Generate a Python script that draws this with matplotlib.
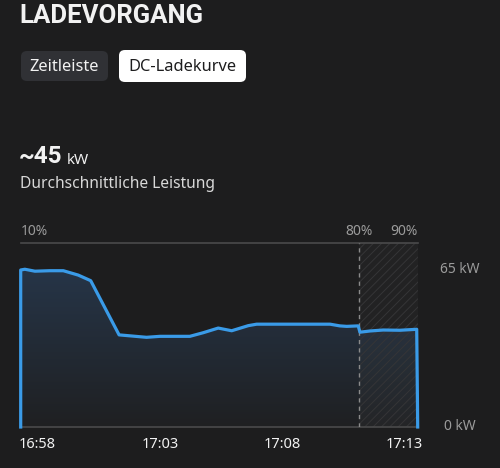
import numpy as np
import matplotlib
matplotlib.use("Agg")
import matplotlib.pyplot as plt
from matplotlib.patches import FancyBboxPatch, Rectangle
from matplotlib.colors import LinearSegmentedColormap

# minutes relative to 16:58
minutes = [-0.69, -0.69, -0.52, -0.11, 0.50, 1.05, 1.66, 2.17, 3.33, 4.45, 5.0,
           6.22, 6.77, 7.38, 7.93, 8.61, 8.95, 11.95, 12.35, 12.63, 13.10, 13.17,
           13.58, 14.12, 14.80, 15.49, 15.53]
power_kw = [0.0, 64.6, 64.9, 64.1, 64.3, 64.3, 62.5, 60.2, 37.9, 36.9, 37.3,
            37.3, 38.8, 40.7, 39.6, 41.7, 42.3, 42.3, 41.6, 41.4, 41.6, 39.0,
            39.5, 39.9, 39.8, 40.2, 0.0]

tick_minutes = [0, 5, 10, 15]
tick_labels = ["16:58", "17:03", "17:08", "17:13"]
soc_80_minute = 13.13
soc_labels = ["10%", "80%", "90%"]
kw_labels = ["65 kW", "0 kW"]
kw_label_values = [65, 0]

BG = "#1d1d1e"
BLUE = "#3a9be8"
GREY = "#9b9b9b"
WHITE = "#f2f2f2"

W, H = 500, 468
fig = plt.figure(figsize=(W / 100, H / 100), dpi=100, facecolor=BG)


def fx(px):
    return px / W


def fy(py):
    return 1 - py / H


font = "Noto Sans"
bold_font = "Roboto"

# header
fig.text(fx(19), fy(16), "LADEVORGANG", color=WHITE, fontsize=18.5,
         fontweight="bold", family=bold_font, va="center", ha="left")

# tab buttons
b1 = FancyBboxPatch((fx(21), fy(81)), fx(87), fy(51) - fy(81),
                    boxstyle="round,pad=0,rounding_size=0.012",
                    transform=fig.transFigure, facecolor="#303135",
                    edgecolor="none")
b2 = FancyBboxPatch((fx(119), fy(82)), fx(127), fy(50) - fy(82),
                    boxstyle="round,pad=0,rounding_size=0.012",
                    transform=fig.transFigure, facecolor="#ffffff",
                    edgecolor="none")
fig.patches.extend([b1, b2])
fig.text(fx(64), fy(67), "Zeitleiste", color=WHITE, fontsize=11.8,
         family=font, va="center", ha="center")
fig.text(fx(182), fy(67), "DC-Ladekurve", color="#1d1d1e", fontsize=11.8,
         family=font, va="center", ha="center")

# average
fig.text(fx(19), fy(157), "~45", color=WHITE, fontsize=17.5,
         fontweight="bold", family=bold_font, va="center", ha="left")
fig.text(fx(67), fy(160), "kW", color=WHITE, fontsize=11,
         family=font, va="center", ha="left")
fig.text(fx(20), fy(184), "Durchschnittliche Leistung", color="#d8d8d8",
         fontsize=11.2, family=font, va="center", ha="left")

# chart axes
x_left, x_right = -0.69, 15.53
y_top = 75.7
ax = fig.add_axes([fx(20.7), fy(427), fx(417.7) - fx(20.7), fy(243) - fy(427)])
ax.set_facecolor("none")
ax.set_xlim(x_left, x_right)
ax.set_ylim(0, y_top)
for side in ["left", "right"]:
    ax.spines[side].set_visible(False)
for side in ["top", "bottom"]:
    ax.spines[side].set_color("#4a4a4b")
    ax.spines[side].set_linewidth(1.2)
ax.set_xticks([])
ax.set_yticks([])

# gradient fill below curve
grad = np.linspace(0, 1, 256).reshape(-1, 1)
cmap = LinearSegmentedColormap.from_list("g", ["#1f2022", "#263548"])
poly = ax.fill_between(minutes, power_kw, 0, color="none")
img = ax.imshow(grad, cmap=cmap, aspect="auto", origin="lower",
                extent=[x_left, x_right, 0, max(power_kw)], zorder=1)
img.set_clip_path(poly.get_paths()[0], transform=ax.transData)

# hatched region after 80 %
plt.rcParams["hatch.color"] = "#353537"
plt.rcParams["hatch.linewidth"] = 0.7
ax.add_patch(Rectangle((soc_80_minute, 0), x_right - soc_80_minute, y_top,
                       facecolor="#ffffff06", edgecolor="#353537",
                       hatch="////", linewidth=0, zorder=2))
ax.axvline(soc_80_minute, color="#8a8a8a", linestyle=(0, (3, 3)),
           linewidth=1, zorder=3)

ax.plot(minutes, power_kw, color=BLUE, linewidth=2.3, zorder=4,
        solid_joinstyle="round", clip_on=False)

# labels
tr = ax.get_xaxis_transform()
ax.text(x_left, 1.065, soc_labels[0], transform=tr, color=GREY, fontsize=10,
        family=font, ha="left", va="center")
ax.text(soc_80_minute, 1.065, soc_labels[1], transform=tr, color=GREY,
        fontsize=10, family=font, ha="center", va="center")
ax.text(x_right, 1.065, soc_labels[2], transform=tr, color=GREY, fontsize=10,
        family=font, ha="right", va="center")

for m, lab in zip(tick_minutes, tick_labels):
    ax.text(m, -0.095, lab, transform=tr, color=WHITE, fontsize=10.5,
            family=font, ha="center", va="center")

for v, lab in zip(kw_label_values, kw_labels):
    ax.text(x_right + 1.72, v, lab, color=GREY, fontsize=10, family=font,
            ha="center", va="center")

fig.savefig("out.png", dpi=100, facecolor=BG)
